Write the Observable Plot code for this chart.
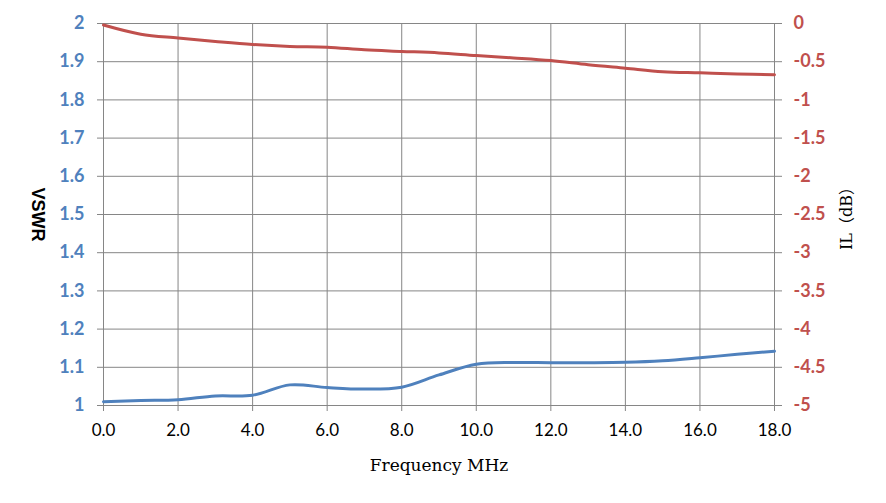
<!DOCTYPE html>
<html>
<head>
<meta charset="utf-8">
<script src="https://cdn.jsdelivr.net/npm/d3@7"></script>
<script src="https://cdn.jsdelivr.net/npm/@observablehq/plot@0.6"></script>
<style>
  html, body { margin: 0; padding: 0; background: #fff; }
</style>
</head>
<body>
<div id="chart"></div>
<script>
const freq = [0, 1, 2, 3, 4, 5, 6, 7, 8, 9, 10, 11, 12, 13, 14, 15, 16, 17, 18];
const vswr = [1.010, 1.013, 1.015, 1.025, 1.027, 1.054, 1.047, 1.043, 1.048, 1.080, 1.108, 1.1125, 1.112, 1.112, 1.113, 1.117, 1.125, 1.134, 1.142];
const ilDb = [-0.02, -0.14, -0.19, -0.235, -0.275, -0.30, -0.31, -0.345, -0.365, -0.385, -0.42, -0.45, -0.485, -0.54, -0.585, -0.63, -0.645, -0.66, -0.67];
const xTicks = [0, 2, 4, 6, 8, 10, 12, 14, 16, 18];
const vswrTicks = [1, 1.1, 1.2, 1.3, 1.4, 1.5, 1.6, 1.7, 1.8, 1.9, 2];
const ilTickLabels = ["-5", "-4.5", "-4", "-3.5", "-3", "-2.5", "-2", "-1.5", "-1", "-0.5", "0"];

const blue = "#4F81BD";
const red = "#C0504D";
const grid = "#868686";

// IL (dB) range [-5, 0] mapped onto VSWR range [1, 2]
const ilToV = d => 2 + d / 5;

const vData = freq.map((f, i) => ({f, v: vswr[i]}));
const iData = freq.map((f, i) => ({f, v: ilToV(ilDb[i])}));

const chart = Plot.plot({
  width: 886,
  height: 503,
  marginLeft: 103,
  marginRight: 112,
  marginTop: 23,
  marginBottom: 98,
  style: {fontFamily: "Lato, 'Open Sans', sans-serif", background: "#fff", overflow: "visible"},
  x: {domain: [0, 18]},
  y: {domain: [1, 2]},
  marks: [
    Plot.gridX(xTicks, {stroke: grid, strokeOpacity: 1, strokeWidth: 1}),
    Plot.gridY(vswrTicks, {stroke: grid, strokeOpacity: 1, strokeWidth: 1}),
    Plot.axisY(vswrTicks, {
      anchor: "left", tickSize: 6, tickPadding: 13, stroke: grid,
      fill: blue, fontWeight: "bold", fontSize: 18, label: null,
      tickFormat: d => String(+d.toFixed(1))
    }),
    Plot.axisY(vswrTicks, {
      anchor: "right", tickSize: 7, tickPadding: 12, stroke: grid,
      fill: red, fontWeight: "bold", fontSize: 18, label: null,
      tickFormat: (d, i) => ilTickLabels[i]
    }),
    Plot.axisX(xTicks, {
      anchor: "bottom", tickSize: 6, tickPadding: 12, stroke: grid,
      fill: "#000", fontSize: 17, label: null,
      tickFormat: d => d.toFixed(1)
    }),
    Plot.line(iData, {x: "f", y: "v", stroke: red, strokeWidth: 3, curve: "catmull-rom"}),
    Plot.line(vData, {x: "f", y: "v", stroke: blue, strokeWidth: 3, curve: "catmull-rom"}),
    Plot.text(["VSWR"], {
      frameAnchor: "left", dx: -66, rotate: 90, textAnchor: "middle", lineAnchor: "middle",
      fontWeight: "bold", fontSize: 18, fill: "#000", fontFamily: "'Liberation Sans', Arial, sans-serif"
    }),
    Plot.text(["IL（dB）"], {
      frameAnchor: "right", dx: 72, rotate: -90, textAnchor: "middle", lineAnchor: "middle",
      fontSize: 16, fill: "#000", fontFamily: "'DejaVu Serif', 'Noto Sans CJK SC', serif"
    }),
    Plot.text(["Frequency MHz"], {
      frameAnchor: "bottom", dy: 60, textAnchor: "middle", lineAnchor: "middle",
      fontSize: 17, fill: "#000", fontFamily: "'DejaVu Serif', serif"
    })
  ]
});
document.getElementById("chart").appendChild(chart);
</script>
</body>
</html>
